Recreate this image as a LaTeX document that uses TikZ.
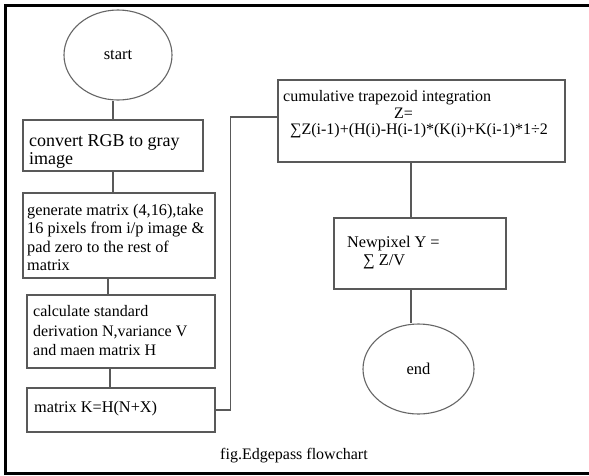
\documentclass[tikz,border=0pt]{standalone}
\usepackage{fontspec}
\setmainfont{Liberation Serif}
\usetikzlibrary{shapes.geometric}
\tikzset{
  line/.style={draw=black!65, line width=1.1pt},
  box/.style={draw=black!65, line width=1.1pt, rectangle, inner sep=0pt, fill=none},
  oval/.style={draw=black!60, line width=1.1pt, ellipse, inner sep=0pt, minimum width=108pt, minimum height=90pt, text=black, font=\fontsize{16.5}{18.5}\selectfont},
  txt/.style={inner sep=0pt, anchor=north west, align=left, text=black, font=\fontsize{16.3}{18.5}\selectfont},
  frame/.style={draw=black, line width=3pt}
}
\begin{document}
\begin{tikzpicture}[x=1pt, y=-1pt]
\useasboundingbox (0,0) rectangle (589,475);
\fill[white] (0,0) rectangle (589,475);
\draw[frame] (600,5) -- (5.5,5) -- (5.5,473.5) -- (600,473.5);

% ovals
\node[oval] (start) at (118,55) {start};
\node[oval, minimum width=111pt] (end) at (418.5,369) {end};

% boxes
\node[box, minimum width=180pt, minimum height=51pt] (b1) at (113,145.5) {};
\node[box, minimum width=192pt, minimum height=85pt] (b2) at (119,235.5) {};
\node[box, minimum width=188pt, minimum height=73pt] (b3) at (121,331.5) {};
\node[box, minimum width=188pt, minimum height=44pt] (b4) at (121,410) {};
\node[box, minimum width=287pt, minimum height=82pt] (b5) at (421.5,121) {};
\node[box, minimum width=172pt, minimum height=71pt] (b6) at (420,253.5) {};

% texts
\node[txt, font=\fontsize{18}{17}\selectfont] (t1) at (29,134) {\strut convert RGB to gray\\image};
\node[txt] (t2) at (27,202) {\strut generate matrix (4,16),take\\16 pixels from i/p image \&\\pad zero to the rest of\\matrix};
\node[txt, font=\fontsize{16}{19.5}\selectfont] (t3) at (33,303) {\strut calculate standard\\derivation N,variance V\\and maen matrix H};
\node[txt] (t4) at (34,399) {\strut matrix K=H(N+X)};
\node[txt, font=\fontsize{16}{16.5}\selectfont] (t5) at (283,90) {\strut cumulative trapezoid integration\\\hspace*{111pt}Z=\\\hspace*{7pt}∑Z(i-1)+(H(i)-H(i-1)*(K(i)+K(i-1)*1÷2};
\node[txt] (t6) at (347,234) {\strut Newpixel Y =\\\hspace*{16pt}∑ Z/V};
\node[inner sep=0pt, anchor=base, text=black, font=\fontsize{16}{18.5}\selectfont] (cap) at (294,459) {fig.Edgepass flowchart};

% connectors
\draw[line] (b1.north) -- (b1.north |- start.south);
\draw[line] (b1.south) -- (b1.south |- b2.north);
\draw[line] ([xshift=-13pt]b3.north) -- ([xshift=-13pt]b3.north |- b2.south);
\draw[line] ([xshift=-11pt]b4.north) -- ([xshift=-11pt]b4.north |- b3.south);
\draw[line] (b4.east) -- ++(15,0) |- ([yshift=4pt]b5.west);
\draw[line] ([xshift=-9pt]b6.north) -- ([xshift=-9pt]b6.north |- b5.south);
\draw[line] ([xshift=-9pt]b6.south) -- ([xshift=-9pt]b6.south |- end.north);
\end{tikzpicture}
\end{document}
